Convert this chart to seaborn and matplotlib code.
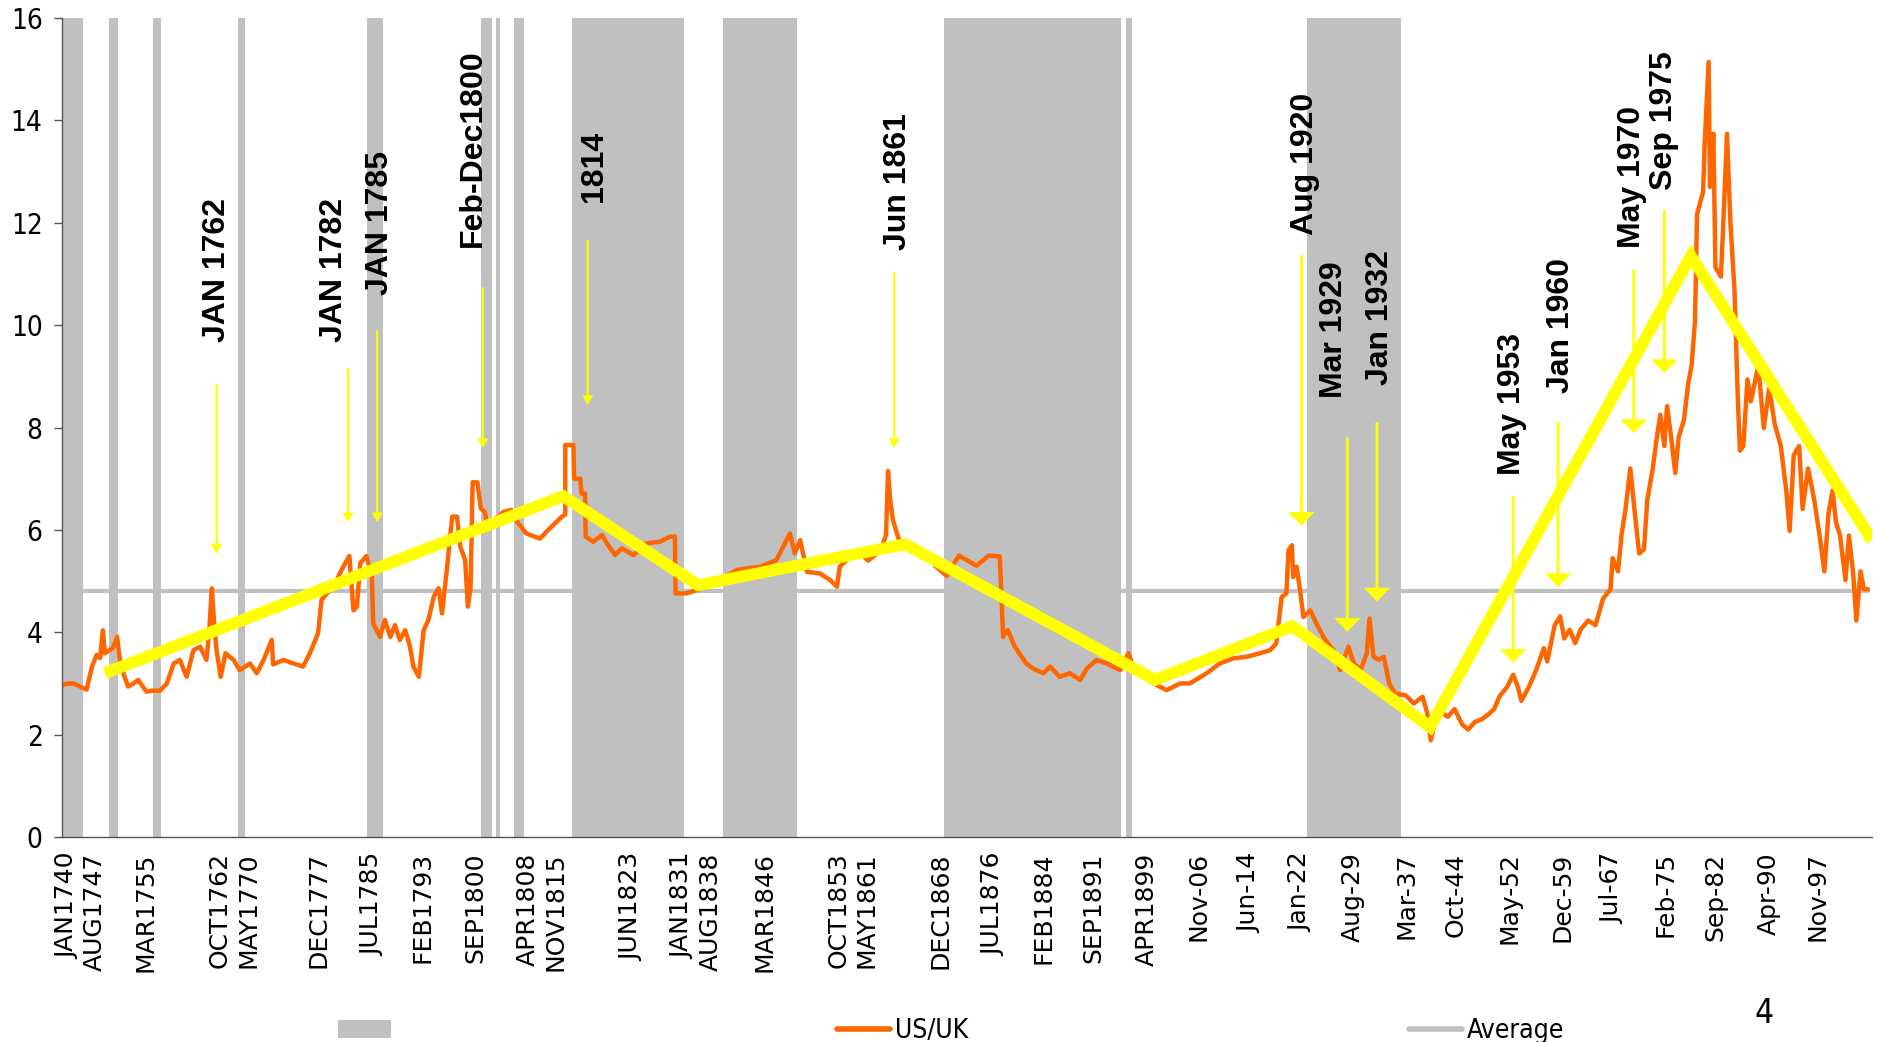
import pandas as pd
import matplotlib
matplotlib.use("Agg")
import matplotlib.pyplot as plt
import seaborn as sns
from matplotlib import font_manager as fm
from matplotlib.patches import Patch
from matplotlib.lines import Line2D

sns.set_style("ticks")
fonts = fm.fontManager.ttflist
names = {f.name for f in fonts}
bold_font = "Liberation Sans" if "Liberation Sans" in names else "DejaVu Sans"
if "Liberation Sans Narrow" in names:
    narrow = fm.FontProperties(family="Liberation Sans Narrow")
elif any(f.name == "DejaVu Sans" and f.stretch == "condensed" for f in fonts):
    narrow = fm.FontProperties(family="DejaVu Sans", stretch="condensed")
else:
    narrow = fm.FontProperties(family="Roboto")
plt.rcParams["font.family"] = ["DejaVu Sans"]
plt.rcParams["text.color"] = "black"
plt.rcParams["xtick.color"] = "black"
plt.rcParams["ytick.color"] = "black"

# US/UK series (year, value)
us_uk_year = [1740.0, 1741.0, 1741.7, 1742.5, 1743.6, 1744.4, 1745.1, 1745.6, 1746.0, 1746.3,
              1747.0, 1747.5, 1748.1, 1748.5, 1749.0, 1749.7, 1750.5, 1751.2, 1751.8, 1752.4,
              1753.4, 1754.4, 1755.4, 1756.4, 1757.3, 1758.3, 1759.3, 1760.3, 1761.2, 1761.6,
              1762.0, 1762.3, 1762.7, 1763.3, 1764.0, 1765.2, 1766.1, 1767.6, 1768.6, 1769.6,
              1770.8, 1771.0, 1772.5, 1774.0, 1775.4, 1776.4, 1777.6, 1778.1, 1778.9, 1779.9,
              1780.8, 1781.6, 1782.2, 1782.8, 1783.3, 1783.8, 1784.7, 1785.5, 1785.7, 1786.7,
              1787.4, 1788.2, 1788.9, 1789.6, 1790.4, 1791.1, 1791.6, 1792.4, 1793.1, 1793.8,
              1794.6, 1795.3, 1795.8, 1796.5, 1797.3, 1798.0, 1798.5, 1799.2, 1799.6, 1800.0,
              1800.3, 1801.0, 1801.5, 1802.1, 1802.4, 1804.1, 1804.8, 1806.0, 1807.0, 1808.2,
              1810.2, 1811.1, 1812.4, 1813.4, 1813.9, 1813.9, 1815.1, 1815.2, 1816.1, 1816.3,
              1816.8, 1816.9, 1818.0, 1819.3, 1820.0, 1821.2, 1822.2, 1823.9, 1825.9, 1827.8,
              1829.3, 1830.0, 1830.1, 1831.7, 1834.7, 1837.0, 1839.1, 1842.5, 1844.9, 1846.9,
              1847.6, 1848.4, 1849.4, 1851.3, 1852.8, 1853.8, 1854.2, 1856.7, 1858.4, 1860.2,
              1861.0, 1861.3, 1861.6, 1862.0, 1862.9, 1864.6, 1866.4, 1868.2, 1869.9, 1871.7,
              1874.3, 1876.1, 1877.7, 1877.9, 1878.2, 1878.9, 1879.9, 1881.6, 1882.6, 1884.1,
              1885.1, 1886.5, 1888.0, 1889.5, 1890.5, 1891.9, 1893.4, 1895.4, 1896.6, 1897.3,
              1898.8, 1900.3, 1902.2, 1904.2, 1905.6, 1908.1, 1910.0, 1912.0, 1913.9, 1915.9,
              1917.4, 1918.3, 1919.1, 1919.8, 1920.1, 1920.6, 1920.8, 1921.3, 1921.8, 1922.3,
              1923.3, 1924.2, 1925.5, 1926.7, 1927.7, 1928.9, 1929.7, 1930.7, 1931.6, 1932.0,
              1932.6, 1933.4, 1934.1, 1934.9, 1935.8, 1937.3, 1938.5, 1939.8, 1940.5, 1941.0,
              1942.0, 1943.5, 1944.5, 1945.6, 1946.5, 1947.5, 1948.5, 1949.5, 1950.3, 1951.1,
              1952.2, 1953.1, 1953.8, 1954.3, 1955.4, 1956.5, 1957.6, 1958.1, 1959.2, 1960.0,
              1960.6, 1961.4, 1962.2, 1963.0, 1964.1, 1965.2, 1966.3, 1967.4, 1967.7, 1968.5,
              1969.0, 1969.6, 1970.3, 1970.9, 1971.6, 1972.3, 1972.8, 1973.6, 1974.2, 1974.7,
              1975.3, 1975.7, 1976.3, 1976.9, 1977.4, 1978.2, 1978.8, 1979.3, 1979.8, 1980.1,
              1981.0, 1981.2, 1981.8, 1982.0, 1982.5, 1982.8, 1983.6, 1983.9, 1984.5, 1985.0,
              1985.6, 1986.1, 1986.4, 1986.9, 1987.5, 1988.0, 1989.1, 1989.9, 1990.7, 1991.5,
              1992.4, 1993.2, 1993.7, 1994.3, 1995.1, 1995.6, 1996.4, 1997.3, 1998.1, 1998.8,
              1999.4, 2000.0, 2000.5, 2001.1, 2001.9, 2002.4, 2003.0, 2003.5, 2004.1, 2004.6,
              2005.2]
us_uk_value = [2.97, 3.0, 3.0, 2.95, 2.88, 3.33, 3.56, 3.5, 4.04, 3.59,
               3.65, 3.7, 3.91, 3.46, 3.2, 2.94, 3.0, 3.07, 2.95, 2.84,
               2.86, 2.86, 3.0, 3.39, 3.46, 3.13, 3.65, 3.72, 3.46, 3.98,
               4.86, 4.24, 3.65, 3.13, 3.59, 3.46, 3.26, 3.39, 3.2, 3.46,
               3.85, 3.37, 3.46, 3.39, 3.33, 3.59, 3.98, 4.63, 4.76, 4.89,
               5.15, 5.35, 5.49, 4.43, 4.5, 5.35, 5.49, 5.08, 4.17, 3.91,
               4.24, 3.91, 4.14, 3.85, 4.04, 3.72, 3.33, 3.13, 4.04, 4.24,
               4.7, 4.86, 4.37, 5.21, 6.26, 6.26, 5.67, 5.41, 4.5, 4.89,
               6.93, 6.93, 6.42, 6.35, 6.13, 6.26, 6.35, 6.39, 6.13, 5.93,
               5.83, 5.96, 6.13, 6.26, 6.3, 7.66, 7.66, 7.0, 7.0, 6.71,
               6.71, 5.87, 5.77, 5.9, 5.74, 5.51, 5.64, 5.51, 5.74, 5.77,
               5.87, 5.87, 4.76, 4.76, 4.89, 5.05, 5.22, 5.28, 5.41, 5.93,
               5.54, 5.8, 5.18, 5.15, 5.02, 4.89, 5.28, 5.6, 5.4, 5.6,
               5.9, 7.15, 6.6, 6.2, 5.8, 5.7, 5.6, 5.3, 5.1, 5.5,
               5.3, 5.5, 5.48, 4.89, 3.91, 4.04, 3.72, 3.39, 3.29, 3.2,
               3.33, 3.13, 3.2, 3.07, 3.29, 3.46, 3.39, 3.26, 3.59, 3.33,
               3.13, 3.0, 2.87, 3.0, 3.0, 3.2, 3.39, 3.49, 3.52, 3.59,
               3.65, 3.78, 4.69, 4.76, 5.6, 5.7, 5.08, 5.28, 4.82, 4.3,
               4.43, 4.17, 3.85, 3.65, 3.26, 3.72, 3.39, 3.26, 3.59, 4.27,
               3.52, 3.46, 3.52, 3.0, 2.8, 2.77, 2.61, 2.74, 2.41, 1.89,
               2.48, 2.35, 2.5, 2.2, 2.1, 2.25, 2.3, 2.4, 2.5, 2.75,
               2.93, 3.17, 2.93, 2.66, 2.93, 3.27, 3.69, 3.43, 4.14, 4.31,
               3.88, 4.05, 3.79, 4.05, 4.23, 4.14, 4.66, 4.84, 5.45, 5.19,
               5.89, 6.41, 7.2, 6.41, 5.54, 5.62, 6.59, 7.2, 7.81, 8.25,
               7.64, 8.42, 7.81, 7.11, 7.81, 8.16, 8.86, 9.21, 10.08, 12.17,
               12.61, 13.48, 15.14, 12.7, 13.74, 11.13, 10.95, 11.82, 13.74, 12.0,
               10.69, 8.51, 7.55, 7.64, 8.94, 8.51, 9.21, 7.99, 8.77, 8.07,
               7.64, 6.77, 5.98, 7.46, 7.64, 6.41, 7.2, 6.59, 5.89, 5.19,
               6.32, 6.77, 6.15, 5.89, 5.02, 5.89, 5.19, 4.23, 5.19, 4.84,
               4.84]
avg_value = 4.8

# hand drawn trend line
trend_year = [1746.3, 1813.6, 1833.4, 1863.8, 1900.5, 1920.7, 1940.9, 1979.2, 2005.8]
trend_value = [3.2, 6.66, 4.92, 5.72, 3.07, 4.12, 2.15, 11.35, 5.8]

# shaded periods
band_start = [1740.0, 1746.9, 1753.4, 1765.9, 1784.8, 1801.5, 1803.7, 1806.4, 1814.9, 1837.1,
              1869.5, 1896.2, 1922.8]
band_end = [1743.1, 1748.2, 1754.5, 1766.9, 1787.1, 1803.1, 1804.3, 1807.8, 1831.3, 1848.0,
            1895.5, 1897.1, 1936.6]

tick_year = [1740.7, 1744.8, 1752.3, 1763.2, 1767.4, 1777.7, 1785.5, 1793.0, 1800.7, 1808.4,
             1812.4, 1823.6, 1831.1, 1835.3, 1843.1, 1854.0, 1858.1, 1869.0, 1876.8, 1884.2,
             1891.5, 1899.3, 1906.9, 1914.4, 1921.8, 1929.6, 1937.4, 1944.7, 1952.5, 1960.3,
             1967.7, 1975.5, 1982.8, 1990.6, 1997.8]
tick_label = ["JAN1740", "AUG1747", "MAR1755", "OCT1762", "MAY1770", "DEC1777", "JUL1785",
              "FEB1793", "SEP1800", "APR1808", "NOV1815", "JUN1823", "JAN1831", "AUG1838",
              "MAR1846", "OCT1853", "MAY1861", "DEC1868", "JUL1876", "FEB1884", "SEP1891",
              "APR1899", "Nov-06", "Jun-14", "Jan-22", "Aug-29", "Mar-37", "Oct-44", "May-52",
              "Dec-59", "Jul-67", "Feb-75", "Sep-82", "Apr-90", "Nov-97"]

# label, text x, text bottom, arrow x, arrow top, arrow tip, big head
events = [
    ("JAN 1762", 1762.8, 9.67, 1762.7, 8.86, 5.54, False),
    ("JAN 1782", 1780.0, 9.67, 1782.0, 9.17, 6.15, False),
    ("JAN 1785", 1786.7, 10.59, 1786.3, 9.9, 6.15, False),
    ("Feb-Dec1800", 1800.4, 11.53, 1801.8, 10.74, 7.6, False),
    ("1814", 1818.1, 12.4, 1817.2, 11.66, 8.44, False),
    ("Jun 1861", 1862.8, 11.47, 1862.2, 11.04, 7.6, False),
    ("Aug 1920", 1922.6, 11.76, 1922.0, 11.37, 6.08, True),
    ("Mar 1929", 1926.8, 8.58, 1928.75, 7.81, 4.01, True),
    ("Jan 1932", 1933.6, 8.83, 1933.1, 8.11, 4.6, True),
    ("May 1953", 1953.0, 7.07, 1953.1, 6.67, 3.4, True),
    ("Jan 1960", 1960.1, 8.67, 1959.7, 8.11, 4.88, True),
    ("May 1970", 1970.6, 11.51, 1970.8, 11.08, 7.89, True),
    ("Sep 1975", 1975.2, 12.64, 1975.3, 12.25, 9.06, True),
]

GREY = "#c0c0c0"
ORANGE = "#ff6600"
YELLOW = "#ffff00"

fig = plt.figure(figsize=(18.79, 10.42), dpi=100)
ax = fig.add_axes([0.033, 0.1967, 0.9633, 0.786])

for s, e in zip(band_start, band_end):
    ax.axvspan(s, e, color=GREY, lw=0, zorder=0)

avg_df = pd.DataFrame({"year": [us_uk_year[0], us_uk_year[-1]], "value": [avg_value, avg_value]})
sns.lineplot(data=avg_df, x="year", y="value", color=GREY, lw=3, ax=ax, zorder=1)

df = pd.DataFrame({"year": us_uk_year, "value": us_uk_value})
sns.lineplot(data=df, x="year", y="value", sort=False, estimator=None,
             color=ORANGE, lw=3.2, ax=ax, zorder=2)

trend = pd.DataFrame({"year": trend_year, "value": trend_value})
sns.lineplot(data=trend, x="year", y="value", sort=False, estimator=None,
             color=YELLOW, lw=8.5, solid_capstyle="butt", solid_joinstyle="miter", ax=ax, zorder=3)

for label, tx, ty, axx, top, tip, big in events:
    ax.text(tx, ty, label, rotation=90, ha="center", va="bottom", fontsize=23,
            fontweight="bold", family=bold_font, color="black", zorder=5)
    hw, hl, w = (19, 10, 2.0) if big else (8, 7, 1.6)
    ax.annotate("", xy=(axx, tip), xytext=(axx, top),
                arrowprops=dict(color=YELLOW, lw=0, width=w, headwidth=hw, headlength=hl, shrink=0),
                zorder=4)

ax.set_xlim(1740, 2005.8)
ax.set_ylim(0, 16)
ax.set_yticks(range(0, 17, 2))
ax.set_xticks(tick_year)
ax.set_xticklabels(tick_label, rotation=90, fontsize=18)
ax.set_xlabel("")
ax.set_ylabel("")
ax.tick_params(axis="x", length=0, pad=11, labelcolor="black")
ax.tick_params(axis="y", length=6, width=1, direction="out", pad=8, color="#555555", labelcolor="black")
for lab in ax.get_yticklabels():
    lab.set_fontproperties(narrow)
    lab.set_fontsize(20)
sns.despine(ax=ax)
for side in ["left", "bottom"]:
    ax.spines[side].set_color("#555555")
    ax.spines[side].set_linewidth(1)

legend_font = narrow.copy()
legend_font.set_size(19)
handles = [Patch(facecolor=GREY, edgecolor="none"),
           Line2D([], [], color=ORANGE, lw=4),
           Line2D([], [], color=GREY, lw=4)]
fig.legend(handles, ["", "US/UK", "Average"], loc="center left", bbox_to_anchor=(0.173, 0.0105),
           ncol=3, frameon=False, borderpad=0, columnspacing=16.7, handletextpad=0.2,
           handlelength=2.0, prop=legend_font, labelcolor="black")
page_font = narrow.copy()
page_font.set_size(24)
fig.text(0.939, 0.027, "4", fontproperties=page_font, ha="center", va="center", color="black")

fig.savefig("out.png", dpi=100)
